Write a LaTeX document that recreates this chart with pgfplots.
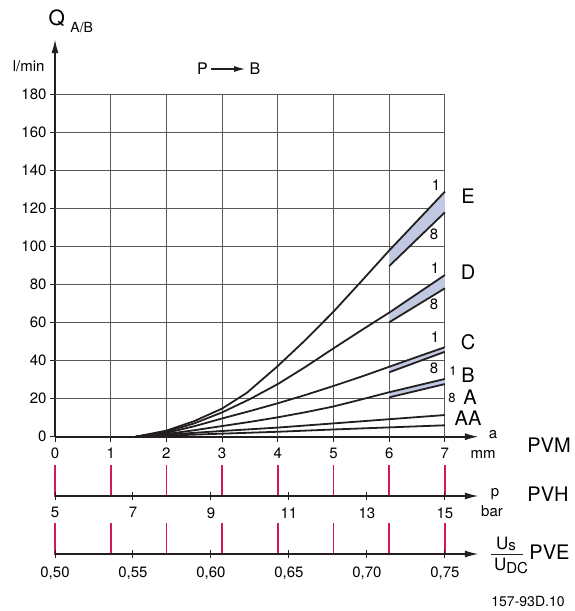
\documentclass[border=0pt]{standalone}
\usepackage{fontspec}
\setmainfont{TeX Gyre Heros}
\usepackage{pgfplots}
\pgfplotsset{compat=1.18}
\usetikzlibrary{arrows.meta}
\definecolor{curve}{RGB}{35,31,32}
\definecolor{band}{RGB}{192,200,226}
\definecolor{redtick}{RGB}{210,25,85}
\newcommand\fs[1]{\fontsize{#1bp}{#1bp}\selectfont}
\begin{document}
\begin{tikzpicture}
\useasboundingbox (0,0) rectangle (575bp,611bp);
% red scale marks matching a = 0..7 mm
\foreach \k in {0,...,7}{
  \pgfmathsetmacro\xx{55+55.7*\k}
  \draw[redtick, line width=1.8bp] (\xx bp,114bp) -- (\xx bp,146bp);
  \draw[redtick, line width=1.8bp] (\xx bp,56bp) -- (\xx bp,88.3bp);
}
% ---------------- main chart (PVM, a in mm) ----------------
\begin{axis}[
  at={(55bp,174.3bp)}, anchor=south west,
  scale only axis, x=55.7bp, y=1.9bp,
  xmin=0, xmax=7.61, ymin=0, ymax=209.3,
  axis lines=left,
  axis line style={line width=1.8bp, curve, -{Latex[length=14bp,width=7bp]}},
  xtick={0,...,7}, ytick={0,20,...,180},
  tick align=outside, major tick length=5bp,
  tick style={line width=1bp, curve},
  ticklabel style={font=\fs{15}},
  xticklabel style={yshift=-3bp},
  /pgf/number format/assume math mode=true,
  clip=false,
]
\pgfplotsinvokeforeach{20,40,...,180}{\draw[black!65, line width=0.9bp] (axis cs:0,#1) -- (axis cs:7,#1);}
\pgfplotsinvokeforeach{1,...,7}{\draw[black!65, line width=0.9bp] (axis cs:#1,0) -- (axis cs:#1,180);}
% bands between curve 1 and curve 8
\addplot[fill=band, draw=none] coordinates {(6,98) (6.5,113.5) (7,129) (7,118.1) (6,89.8)};
\addplot[fill=band, draw=none] coordinates {(6,65.3) (6.5,75.2) (7,85.1) (7,78.1) (6,60.2)};
\addplot[fill=band, draw=none] coordinates {(6,36.8) (6.5,42) (7,47.1) (7,44.7) (6,33.9)};
\addplot[fill=band, draw=none] coordinates {(6,23.4) (6.5,26.9) (7,30.4) (7,27.7) (6,20.7)};
% E
\addplot[curve, line width=1.8bp] coordinates {(1.45,0) (2,3.2) (2.5,8.2) (3,14.8) (3.44,23) (4,37.2) (4.5,51) (5,65.8) (5.5,81.8) (6,98) (6.5,113.5) (7,129)};
\addplot[curve, line width=1.8bp] coordinates {(6,89.8) (7,118.1)};
% D
\addplot[curve, line width=1.8bp] coordinates {(1.45,0) (2,2.6) (2.5,7) (3,12.8) (3.5,19.8) (4,27.7) (4.5,36.8) (5,46.5) (5.5,56) (6,65.3) (6.5,75.2) (7,85.1)};
\addplot[curve, line width=1.8bp] coordinates {(6,60.2) (7,78.1)};
% C
\addplot[curve, line width=1.8bp] coordinates {(1.45,0) (2,2) (2.5,5.5) (3,9.6) (3.5,13.5) (4,17.6) (4.5,22) (5,26.7) (5.5,31.6) (6,36.8) (6.5,42) (7,47.1)};
\addplot[curve, line width=1.8bp] coordinates {(6,33.9) (7,44.7)};
% B
\addplot[curve, line width=1.8bp] coordinates {(1.45,0) (2,1.4) (2.5,3.4) (3,5.6) (3.5,7.8) (4,10.2) (4.5,12.9) (5,15.9) (5.5,19.6) (6,23.4) (6.5,26.9) (7,30.4)};
\addplot[curve, line width=1.8bp] coordinates {(6,20.7) (7,27.7)};
% A / AA
\addplot[curve, line width=1.8bp] coordinates {(1.45,0) (3,3) (4,4.8) (5,7) (6,9.2) (7,11.4)};
\addplot[curve, line width=1.8bp] coordinates {(1.45,0) (3,1.6) (4,2.6) (5,3.8) (6,4.9) (7,6)};
\end{axis}
% ---------------- PVH scale (p in bar) ----------------
\begin{axis}[
  at={(55bp,115bp)}, anchor=south west,
  scale only axis, x=38.99bp, y=31bp,
  xmin=5, xmax=15.871, ymin=0, ymax=1,
  axis x line=bottom, axis y line=none,
  axis line style={line width=1.8bp, curve, -{Latex[length=14bp,width=7bp]}},
  xtick={5,7,9,11,13,15}, ytick=\empty,
  tick align=center, major tick length=8bp,
  tick style={line width=1bp, curve},
  ticklabel style={font=\fs{15}},
  xticklabel style={yshift=-4bp},
  /pgf/number format/assume math mode=true,
  clip=false,
]
\end{axis}
% ---------------- PVE scale (Us/UDC) ----------------
\begin{axis}[
  at={(55bp,57bp)}, anchor=south west,
  scale only axis, x=15.596bp, y=31.3bp,
  xmin=50, xmax=77.175, ymin=0, ymax=1,
  axis x line=bottom, axis y line=none,
  axis line style={line width=1.8bp, curve, -{Latex[length=14bp,width=7bp]}},
  xtick={50,55,60,65,70,75}, xticklabels={{0,50},{0,55},{0,60},{0,65},{0,70},{0,75}},
  ytick=\empty,
  tick align=center, major tick length=8bp,
  tick style={line width=1bp, curve},
  ticklabel style={font=\fs{15}},
  xticklabel style={yshift=-5bp},
  clip=false,
]
\end{axis}
% ---------------- texts ----------------
\node[font=\fs{21}] at (56.7bp,593bp) {Q};
\node[font=\fs{14}] at (81.7bp,583.5bp) {A/B};
\node[font=\fs{15}, anchor=east] at (48bp,545bp) {l/min};
\node[font=\fs{16}] at (202.5bp,542bp) {P};
\draw[line width=1.1bp, curve, -{Latex[length=11bp,width=6bp]}] (211bp,542bp) -- (245bp,542bp);
\node[font=\fs{16}] at (255bp,542bp) {B};
% curve labels
\node[font=\fs{20}] at (468bp,415bp) {E};
\node[font=\fs{15}] at (436bp,426bp) {1};
\node[font=\fs{15}] at (434bp,377bp) {8};
\node[font=\fs{20}] at (468bp,339bp) {D};
\node[font=\fs{15}] at (435bp,343bp) {1};
\node[font=\fs{15}] at (434bp,307bp) {8};
\node[font=\fs{20}] at (468bp,269bp) {C};
\node[font=\fs{15}] at (435bp,274bp) {1};
\node[font=\fs{15}] at (434bp,243bp) {8};
\node[font=\fs{13}] at (453bp,240bp) {1};
\node[font=\fs{20}] at (468bp,236bp) {B};
\node[font=\fs{13}] at (452bp,213bp) {8};
\node[font=\fs{20}] at (470bp,214bp) {A};
\node[font=\fs{20}] at (468bp,193bp) {AA};
% scale names
\node[font=\fs{15}] at (493bp,176bp) {a};
\node[font=\fs{15}] at (483bp,157bp) {mm};
\node[font=\fs{20}] at (549bp,166bp) {PVM};
\node[font=\fs{15}] at (495bp,117bp) {p};
\node[font=\fs{15}] at (492bp,100bp) {bar};
\node[font=\fs{20}] at (548bp,117bp) {PVH};
\node[font=\fs{17}] at (506bp,67bp) {U\raisebox{-1bp}{\fs{15}s}};
\draw[line width=1bp, curve] (491bp,56.7bp) -- (523bp,56.7bp);
\node[font=\fs{17}] at (511bp,45.3bp) {U\raisebox{-3bp}{\fs{15}DC}};
\node[font=\fs{20}] at (549.5bp,58.5bp) {PVE};
\node[font=\fs{14}] at (528bp,9.7bp) {157-93D.10};
\end{tikzpicture}
\end{document}
